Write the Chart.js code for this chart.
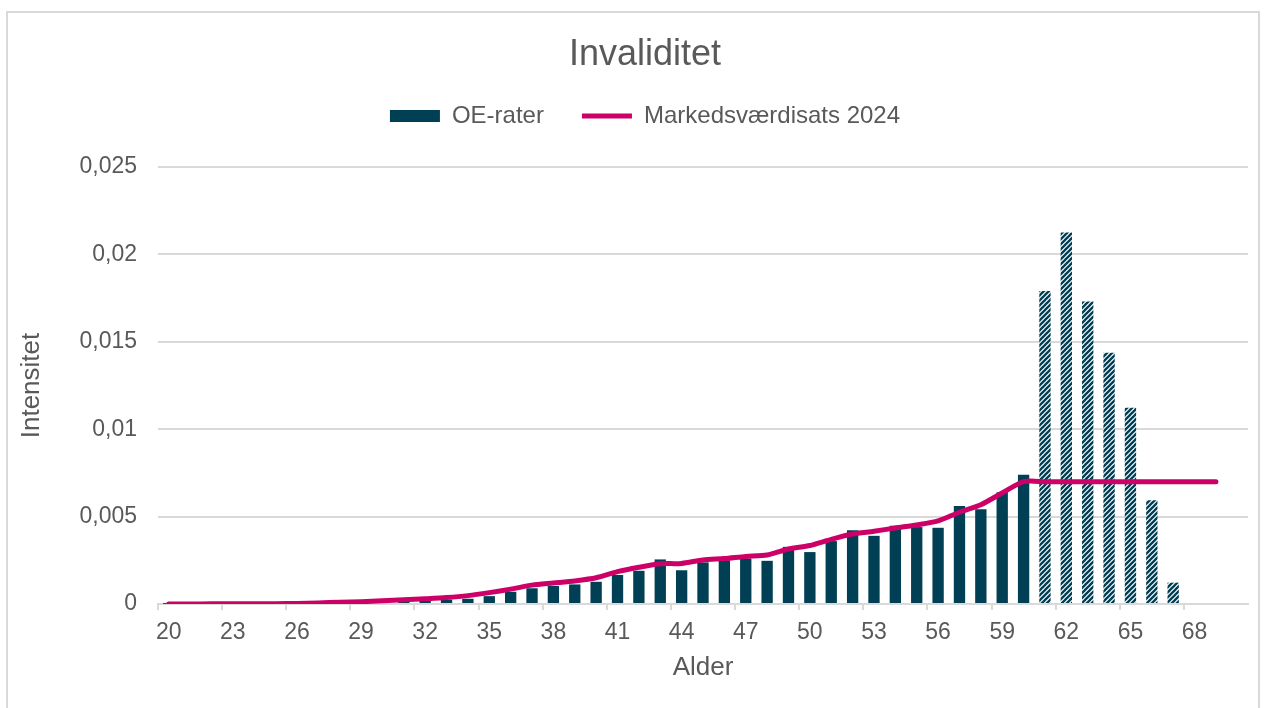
<!DOCTYPE html>
<html lang="da">
<head>
    <meta charset="UTF-8">
    <title>Invaliditet</title>
    <style>
        body { margin: 0; background: #fff; }
        #wrap { position: relative; width: 1266px; height: 708px; overflow: hidden; }
        #frame { position: absolute; left: 6px; top: 11px; width: 1250px; height: 720px; border: 2px solid #d9d9d9; pointer-events: none; }
        canvas { position: absolute; left: 0; top: 0; }
    </style>
</head>
<body>
    <div id="wrap">
        <canvas id="chart" width="1266" height="708"></canvas>
        <div id="frame"></div>
    </div>

    <script src="https://cdn.jsdelivr.net/npm/chart.js"></script>
    <script>
        // ages 20..70 on the x axis
        var ages = [];
        for (var a = 20; a <= 70; a++) ages.push(String(a));

        // OE-rater (bars); 61+ drawn hatched
        var oeRates = [
            0.00001, 0.00001, 0.00001, 0.00001, 0.00002, 0.00002, 0.00003, 0.00004, 0.00005, 0.00006, // 20-29
            0.00009, 0.00013, 0.0002, 0.00025, 0.0003, 0.00045, 0.0007, 0.0009, 0.00103, 0.00112,     // 30-39
            0.00127, 0.00166, 0.0019, 0.00255, 0.00193, 0.00238, 0.0025, 0.0026, 0.00247, 0.00327,   // 40-49
            0.00297, 0.0036, 0.00422, 0.0039, 0.00447, 0.0044, 0.00436, 0.0056, 0.00542, 0.0064,     // 50-59
            0.0074, 0.0179, 0.02125, 0.0173, 0.01437, 0.01123, 0.00594, 0.00122, null, null,         // 60-69
            null                                                                                    // 70
        ];
        var firstHatchedAge = 61;

        // Markedsværdisats 2024 (line)
        var marketRates = [
            0, 0, 0.00001, 0.00001, 0.00001, 0.00002, 0.00003, 0.00006, 0.0001, 0.00013,            // 20-29
            0.00018, 0.00024, 0.0003, 0.00037, 0.00048, 0.00065, 0.00085, 0.00108, 0.0012, 0.00132,  // 30-39
            0.0015, 0.00185, 0.0021, 0.0023, 0.00232, 0.00252, 0.0026, 0.00272, 0.0028, 0.00315,     // 40-49
            0.00335, 0.0037, 0.004, 0.00416, 0.00435, 0.00452, 0.00475, 0.00525, 0.00568, 0.00635,   // 50-59
            0.007, 0.007, 0.007, 0.007, 0.007, 0.007, 0.007, 0.007, 0.007, 0.007,                    // 60-69
            null                                                                                    // 70
        ];

        var yTicks = [0, 0.005, 0.01, 0.015, 0.02, 0.025];

        var barColor = '#003f54';
        var lineColor = '#cc0066';
        var textColor = '#595959';
        var gridColor = '#d9d9d9';
        var fontFamily = '"Liberation Sans", Arial, Helvetica, sans-serif';

        function makeHatch(color) {
            var s = 5;
            var c = document.createElement('canvas');
            c.width = s; c.height = s;
            var g = c.getContext('2d');
            g.fillStyle = '#ffffff';
            g.fillRect(0, 0, s, s);
            g.strokeStyle = color;
            g.lineWidth = 2.3;
            g.beginPath();
            g.moveTo(-1, s + 1); g.lineTo(s + 1, -1);
            g.moveTo(-1, 1); g.lineTo(1, -1);
            g.moveTo(s - 1, s + 1); g.lineTo(s + 1, s - 1);
            g.stroke();
            return g.createPattern(c, 'repeat');
        }

        var hatch = makeHatch(barColor);
        var barColors = ages.map(function(age) {
            return Number(age) >= firstHatchedAge ? hatch : barColor;
        });

        function formatTick(v) {
            return String(Number(v.toFixed(3))).replace('.', ',');
        }

        // push the plot area down below the legend
        var legendGap = {
            id: 'legendGap',
            beforeUpdate: function(chart) {
                var legend = chart.legend;
                if (legend && !legend._gapPatched) {
                    var fit = legend.fit;
                    legend.fit = function() {
                        fit.call(this);
                        this.height += 29;
                    };
                    legend._gapPatched = true;
                }
            }
        };

        var ctx = document.getElementById('chart').getContext('2d');
        new Chart(ctx, {
            type: 'bar',
            data: {
                labels: ages,
                datasets: [{
                    type: 'bar',
                    label: 'OE-rater',
                    data: oeRates,
                    backgroundColor: barColors,
                    borderWidth: 0,
                    barPercentage: 1,
                    categoryPercentage: 0.53,
                    order: 1,
                    pointStyle: 'rect'
                }, {
                    type: 'line',
                    label: 'Markedsværdisats 2024',
                    data: marketRates,
                    borderColor: lineColor,
                    backgroundColor: lineColor,
                    borderWidth: 5,
                    borderCapStyle: 'round',
                    borderJoinStyle: 'round',
                    tension: 0.25,
                    pointRadius: 0,
                    order: 0,
                    pointStyle: 'line'
                }]
            },
            options: {
                responsive: false,
                animation: false,
                layout: { padding: { left: 42, right: 18, top: 0, bottom: 0 } },
                plugins: {
                    title: {
                        display: true,
                        text: 'Invaliditet',
                        color: textColor,
                        font: { family: fontFamily, size: 36, weight: 'normal' },
                        padding: { top: 33.4, bottom: -10.6 }
                    },
                    legend: {
                        display: true,
                        labels: {
                            color: textColor,
                            font: { family: fontFamily, size: 24 },
                            usePointStyle: true,
                            pointStyleWidth: 50,
                            boxHeight: 12,
                            padding: 38,
                            sort: function(a, b) { return a.datasetIndex - b.datasetIndex; }
                        }
                    },
                    tooltip: { enabled: false }
                },
                scales: {
                    x: {
                        offset: true,
                        grid: {
                            offset: true,
                            drawOnChartArea: false,
                            drawTicks: true,
                            tickLength: 6,
                            lineWidth: 2,
                            color: function(c) { return c.index % 3 === 0 ? gridColor : 'rgba(0,0,0,0)'; }
                        },
                        border: { display: true, color: gridColor, width: 2 },
                        ticks: {
                            autoSkip: false,
                            maxRotation: 0,
                            padding: 9,
                            color: textColor,
                            font: { family: fontFamily, size: 23 },
                            callback: function(v, i) { return i % 3 === 0 ? ages[i] : ''; }
                        },
                        title: {
                            display: true,
                            text: 'Alder',
                            color: textColor,
                            font: { family: fontFamily, size: 26 },
                            padding: { top: 0, bottom: 24.4 }
                        },
                        afterFit: function(scale) { scale.height = 104; }
                    },
                    y: {
                        min: yTicks[0],
                        max: yTicks[yTicks.length - 1],
                        afterBuildTicks: function(scale) {
                            scale.ticks = yTicks.map(function(v) { return { value: v }; });
                        },
                        grid: { color: gridColor, lineWidth: 2, drawTicks: false },
                        border: { display: false },
                        ticks: {
                            padding: 21,
                            color: textColor,
                            font: { family: fontFamily, size: 23 },
                            callback: function(v) { return formatTick(v); }
                        },
                        title: {
                            display: true,
                            text: 'Intensitet',
                            color: textColor,
                            font: { family: fontFamily, size: 26 },
                            padding: { top: -25.6, bottom: 0 }
                        },
                        afterFit: function(scale) { scale.width = 116; }
                    }
                }
            },
            plugins: [legendGap]
        });
    </script>
</body>
</html>
